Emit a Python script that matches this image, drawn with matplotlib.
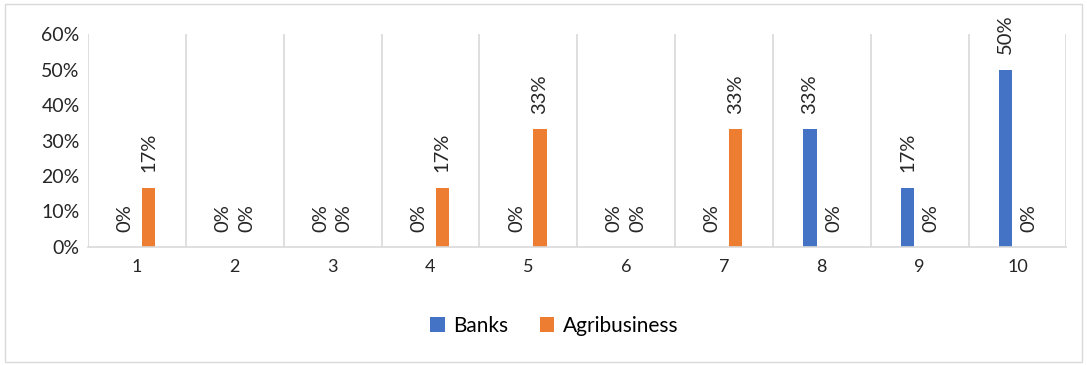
import matplotlib.pyplot as plt
import numpy as np
from matplotlib.patches import Rectangle

plt.rcParams['font.family'] = ['Lato', 'DejaVu Sans']

categories = ['1', '2', '3', '4', '5', '6', '7', '8', '9', '10']
banks = [0, 0, 0, 0, 0, 0, 0, 33.3, 16.7, 50]
agri = [16.7, 0, 0, 16.7, 33.3, 0, 33.3, 0, 0, 0]
banks_labels = ['0%', '0%', '0%', '0%', '0%', '0%', '0%', '33%', '17%', '50%']
agri_labels = ['17%', '0%', '0%', '17%', '33%', '0%', '33%', '0%', '0%', '0%']

blue = '#4472C4'
orange = '#ED7D31'
grid = '#D9D9D9'

fig = plt.figure(figsize=(10.87, 3.65), dpi=100)
fig.patches.append(Rectangle((0.005, 0.008), 0.99, 0.982, transform=fig.transFigure,
                             fill=False, edgecolor=grid, linewidth=1))
ax = fig.add_axes([0.081, 0.3233, 0.9, 0.5835])

x = np.arange(len(categories))
w = 0.135
off = 0.12
b1 = ax.bar(x - off, banks, w, color=blue, label='Banks')
b2 = ax.bar(x + off, agri, w, color=orange, label='Agribusiness')

for xs, vals, labs in [(x - off, banks, banks_labels), (x + off, agri, agri_labels)]:
    for xi, v, t in zip(xs, vals, labs):
        ax.annotate(t, (xi, v), xytext=(0, 11), textcoords='offset points',
                    rotation=90, ha='center', va='bottom', fontsize=14.5, color='#262626')

ax.set_ylim(0, 60)
ax.set_xlim(-0.5, len(categories) - 0.5)
ax.set_yticks(np.arange(0, 61, 10))
ax.set_yticklabels([f'{v}%' for v in range(0, 61, 10)], fontsize=14, color='#262626')
ax.set_xticks(x)
ax.set_xticklabels(categories, fontsize=13, color='#262626')
ax.tick_params(axis='both', length=0)
ax.tick_params(axis='x', pad=9)
ax.tick_params(axis='y', pad=6)

for b in np.arange(-0.5, len(categories), 1.0):
    ax.axvline(b, color=grid, linewidth=1.2, zorder=0)

for s in ['top', 'right', 'left']:
    ax.spines[s].set_visible(False)
ax.spines['bottom'].set_color(grid)
ax.spines['bottom'].set_linewidth(1.2)

fig.legend(handles=[b1, b2], loc='center', bbox_to_anchor=(0.51, 0.107), ncol=2,
           frameon=False, fontsize=15, handlelength=0.7, handleheight=0.7,
           columnspacing=1.5, handletextpad=0.4)

fig.savefig('out.png', dpi=100)
